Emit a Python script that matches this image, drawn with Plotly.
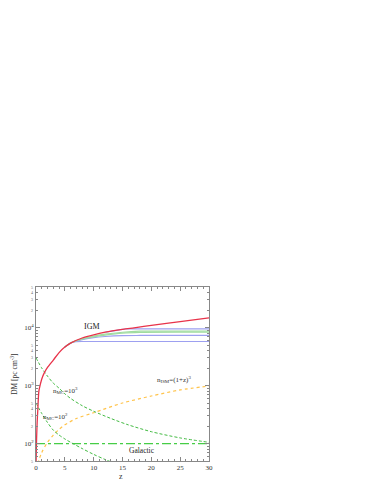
import plotly.graph_objects as go
import numpy as np

# ---- data ----
z_igm = [0, 0.02, 0.05, 0.1, 0.2, 0.3, 0.5, 0.75, 1, 1.5, 2, 3, 4, 5, 6, 8, 10, 12, 15, 17, 20, 25, 30]
dm_igm = [20, 50, 70, 120, 230, 360, 800, 1050, 1300, 1700, 2050, 2750, 3700, 4600, 5400, 6600, 7500, 8300, 9300, 9900, 10900, 12700, 14700]

z_blue_a = [5, 6, 6.5, 7, 8, 30]
dm_blue_a = [4600, 5400, 5650, 5720, 5750, 5750]
z_blue_b = [5, 6, 8, 10, 12, 15, 18, 30]
dm_blue_b = [4600, 5400, 6200, 6700, 7000, 7250, 7300, 7300]
z_blue_c = [12, 15, 15.5, 16, 17, 30]
dm_blue_c = [8300, 9300, 9430, 9480, 9500, 9500]

z_green_a = [5, 6, 8, 10, 12, 15, 18, 20, 30]
dm_green_a = [4600, 5400, 6400, 7100, 7700, 8300, 8650, 8700, 8700]
z_green_b = [5, 6, 8, 10, 12, 15, 18, 30]
dm_green_b = [4600, 5400, 6300, 6900, 7400, 8000, 8250, 8300]

z_mc3 = [0, 1, 2, 3, 4, 5, 6, 8, 10, 13, 16, 20, 25, 30]
dm_mc3 = [3000, 2000, 1450, 1100, 900, 720, 600, 450, 360, 270, 210, 160, 125, 105]

z_mc2 = [0, 1, 2, 3, 4, 5, 6, 8, 10, 12, 14]
dm_mc2 = [500, 330, 230, 170, 140, 120, 105, 82, 65, 53, 44]

z_ism = [0.3, 1, 2, 3, 4, 5, 7, 10, 15, 20, 25, 30]
dm_ism = [45, 70, 105, 140, 175, 210, 270, 340, 500, 660, 840, 980]

z_gal = [0, 10, 20, 30]
dm_gal = [100, 100, 100, 100]

major_vals = [100, 1000, 10000]
major_text = ["10<sup>2</sup>", "10<sup>3</sup>", "10<sup>4</sup>"]
minor_label_vals = [50, 200, 300, 400, 500, 2000, 3000, 4000, 5000, 20000, 30000, 40000, 50000]
minor_label_text = ["5", "2", "3", "4", "5", "2", "3", "4", "5", "2", "3", "4", "5"]

FONT = "Liberation Serif"
AX = "#888888"

fig = go.Figure()

def add(x, y, color, dash="solid", width=1.0, shape="spline"):
    fig.add_trace(go.Scatter(x=x, y=y, mode="lines",
                             line=dict(color=color, dash=dash, width=width,
                                       shape=shape, smoothing=0.8),
                             showlegend=False, hoverinfo="skip"))

add(z_gal, dm_gal, "rgb(70,205,70)", "dashdot", 1.3, "linear")
add(z_ism, dm_ism, "#ffc34a", "dot", 1.2)
add(z_mc2, dm_mc2, "#44bb44", "3px,2px", 1.0)
add(z_mc3, dm_mc3, "#44bb44", "3px,2px", 1.0)
add(z_blue_a, dm_blue_a, "#9da0f0", "solid", 1.2)
add(z_blue_b, dm_blue_b, "#9da0f0", "solid", 1.2)
add(z_blue_c, dm_blue_c, "#9da0f0", "solid", 1.2)
add(z_green_a, dm_green_a, "#a0dca0", "solid", 1.2)
add(z_green_b, dm_green_b, "#a0dca0", "solid", 1.2)
add(z_igm, dm_igm, "#e8334a", "solid", 1.3)

minor_ticks = []
for dec in [10, 100, 1000, 10000]:
    for m in range(2, 10):
        v = m * dec
        if 50 <= v <= 50000:
            minor_ticks.append(v)

fig.update_xaxes(range=[0, 30], dtick=5, tick0=0, ticks="inside", ticklen=4,
                 tickcolor=AX, showline=True, linecolor=AX, linewidth=1,
                 mirror="allticks", showgrid=False, zeroline=False,
                 tickfont=dict(family=FONT, size=7, color="#333333"),
                 minor=dict(dtick=1, ticks="inside", ticklen=2, tickcolor=AX, showgrid=False))
fig.update_yaxes(type="log", range=[np.log10(50), np.log10(50000)],
                 tickmode="array", tickvals=major_vals, ticktext=major_text,
                 ticks="inside", ticklen=4, tickcolor=AX, showline=True,
                 linecolor=AX, linewidth=1, mirror="allticks", showgrid=False,
                 zeroline=False, tickfont=dict(family=FONT, size=7, color="#333333"),
                 minor=dict(tickmode="array", tickvals=minor_ticks, ticks="inside",
                            ticklen=2, tickcolor=AX, showgrid=False))

ann = []
for v, t in zip(minor_label_vals, minor_label_text):
    ann.append(dict(x=-0.005, xref="paper", y=np.log10(v), yref="y", text=t,
                    showarrow=False, xanchor="right", yanchor="middle",
                    font=dict(family=FONT, size=4, color="#666666")))

labels = [
    dict(x=9.7, y=np.log10(10600), text="IGM", font=dict(family=FONT, size=8, color="#222222")),
    dict(x=5.2, y=np.log10(820), text="n<sub>MC</sub>=10<sup>3</sup>", font=dict(family=FONT, size=7, color="#333333")),
    dict(x=3.4, y=np.log10(290), text="n<sub>MC</sub>=10<sup>2</sup>", font=dict(family=FONT, size=7, color="#333333")),
    dict(x=23.9, y=np.log10(1250), text="n<sub>ISM</sub>=(1+z)<sup>3</sup>", font=dict(family=FONT, size=7, color="#333333")),
    dict(x=18.4, y=np.log10(77), text="Galactic", font=dict(family=FONT, size=7.5, color="#222222")),
]
for a in labels:
    a.update(xref="x", yref="y", showarrow=False, xanchor="center", yanchor="middle")
ann += labels

ann.append(dict(x=-0.128, xref="paper", y=0.5, yref="paper", text="DM [pc cm<sup>-3</sup>]",
                textangle=-90, showarrow=False, xanchor="center", yanchor="middle",
                font=dict(family=FONT, size=7.5, color="#333333")))
ann.append(dict(x=0.49, xref="paper", y=-0.09, yref="paper", text="z",
                showarrow=False, xanchor="center", yanchor="middle",
                font=dict(family=FONT, size=8, color="#333333")))

# page body has an 8px margin, so the figure is offset by 8px
fig.update_layout(width=366, height=476, margin=dict(l=28, r=165, t=279, b=23),
                  paper_bgcolor="white", plot_bgcolor="white", annotations=ann)

fig.write_html("out.html")
